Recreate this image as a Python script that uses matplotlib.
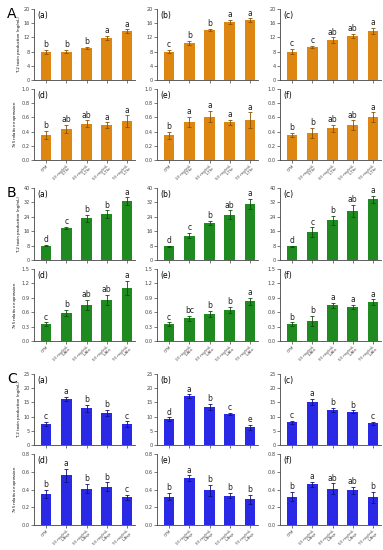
import numpy as np
import matplotlib
matplotlib.use('Agg')
import matplotlib.pyplot as plt

# x categories
doses = ['CYM', '10 mg/mL', '30 mg/mL', '50 mg/mL', '70 mg/mL']
amino = ['L-Thr', 'L-Ala', 'L-Asp']

# panel A (L-Thr): toxin (a,b,c) and Tri5 expression (d,e,f)
A_tox = [[7.8, 8.0, 9.0, 11.9, 13.8], [8.0, 10.4, 14.1, 16.4, 16.8], [8.0, 9.3, 11.2, 12.3, 13.8]]
A_tox_err = [[0.6, 0.4, 0.3, 0.5, 0.5], [0.5, 0.6, 0.4, 0.5, 0.6], [0.7, 0.4, 0.8, 0.6, 0.8]]
A_tox_let = [['b', 'b', 'b', 'a', 'a'], ['c', 'b', 'b', 'a', 'a'], ['c', 'c', 'ab', 'ab', 'a']]
A_exp = [[0.35, 0.44, 0.51, 0.49, 0.55], [0.35, 0.54, 0.61, 0.53, 0.56], [0.35, 0.38, 0.45, 0.49, 0.60]]
A_exp_err = [[0.06, 0.06, 0.05, 0.04, 0.08], [0.05, 0.07, 0.08, 0.04, 0.11], [0.03, 0.07, 0.05, 0.07, 0.07]]
A_exp_let = [['b', 'ab', 'ab', 'a', 'a'], ['b', 'a', 'a', 'a', 'a'], ['b', 'b', 'ab', 'ab', 'a']]

# panel B (L-Ala)
B_tox = [[8.0, 17.8, 23.2, 25.3, 32.8], [7.5, 13.5, 20.6, 25.0, 31.2], [7.5, 15.3, 22.2, 27.2, 33.8]]
B_tox_err = [[0.5, 0.6, 2.0, 2.2, 2.0], [0.3, 1.5, 1.3, 2.5, 2.8], [0.5, 2.8, 2.5, 3.5, 2.0]]
B_tox_let = [['d', 'c', 'b', 'b', 'a'], ['d', 'c', 'b', 'ab', 'a'], ['d', 'c', 'b', 'ab', 'a']]
B_exp = [[0.35, 0.59, 0.75, 0.85, 1.10], [0.35, 0.47, 0.56, 0.65, 0.83], [0.35, 0.42, 0.74, 0.71, 0.81]]
B_exp_err = [[0.04, 0.06, 0.10, 0.11, 0.15], [0.04, 0.05, 0.07, 0.06, 0.07], [0.04, 0.11, 0.06, 0.04, 0.06]]
B_exp_let = [['c', 'b', 'ab', 'ab', 'a'], ['c', 'bc', 'b', 'b', 'a'], ['b', 'b', 'a', 'a', 'a']]

# panel C (L-Asp)
C_tox = [[7.5, 16.3, 12.9, 11.3, 7.3], [9.1, 17.2, 13.3, 10.9, 6.3], [8.0, 15.2, 12.3, 11.7, 7.6]]
C_tox_err = [[0.7, 0.7, 1.2, 1.0, 1.0], [0.6, 0.6, 1.1, 0.4, 0.9], [0.5, 1.0, 0.7, 0.5, 0.5]]
C_tox_let = [['c', 'a', 'b', 'b', 'c'], ['d', 'a', 'b', 'c', 'e'], ['c', 'a', 'b', 'b', 'c']]
C_exp = [[0.35, 0.56, 0.41, 0.43, 0.31], [0.32, 0.53, 0.39, 0.33, 0.29], [0.32, 0.46, 0.41, 0.39, 0.31]]
C_exp_err = [[0.05, 0.07, 0.05, 0.05, 0.03], [0.04, 0.03, 0.06, 0.03, 0.05], [0.05, 0.03, 0.06, 0.04, 0.06]]
C_exp_let = [['b', 'a', 'b', 'b', 'c'], ['b', 'a', 'b', 'b', 'b'], ['b', 'a', 'ab', 'ab', 'b']]

panels = [
    ('A', A_tox, A_tox_err, A_tox_let, A_exp, A_exp_err, A_exp_let, 20, 4, 1.0, 0.2, '#DE8612', '#8a5200'),
    ('B', B_tox, B_tox_err, B_tox_let, B_exp, B_exp_err, B_exp_let, 40, 8, 1.5, 0.3, '#1F8A1F', '#0d4d0d'),
    ('C', C_tox, C_tox_err, C_tox_let, C_exp, C_exp_err, C_exp_let, 25, 5, 0.8, 0.2, '#2A2AE6', '#10107a'),
]

W, H = 383, 550
fig = plt.figure(figsize=(W / 100, H / 100), dpi=100)

col_left = [34, 157, 280]
col_w = 101
# (top, bottom) pixel rows of toxin / expression axes for each panel
rows = [((9, 80), (89, 160)), ((188, 260), (269, 341)), ((374, 445), (454, 525))]
sub_tox = ['(a)', '(b)', '(c)']
sub_exp = ['(d)', '(e)', '(f)']

x = np.arange(len(doses))


def style_ax(ax, ymax, ystep):
    ax.set_xlim(-0.6, 4.4)
    ax.set_ylim(0, ymax)
    ax.set_yticks(np.arange(0, ymax + ystep / 2, ystep))
    for s in ['top', 'right']:
        ax.spines[s].set_visible(False)
    for s in ['left', 'bottom']:
        ax.spines[s].set_linewidth(0.6)
        ax.spines[s].set_color('#444444')
    ax.tick_params(axis='both', length=2, width=0.5, labelsize=3.6, pad=1, colors='#444444')


def draw_bars(ax, vals, errs, lets, ymax, color, ecolor):
    ax.bar(x, vals, width=0.52, color=color, zorder=2)
    ax.errorbar(x, vals, yerr=errs, fmt='none', ecolor=ecolor, elinewidth=0.6,
                capsize=1.3, capthick=0.6, zorder=3)
    for xi, v, e, l in zip(x, vals, errs, lets):
        ax.text(xi, v + e + ymax * 0.01, l, ha='center', va='bottom', fontsize=5.5, color='#222222')


for pi, (letter, tox, tox_e, tox_l, exp, exp_e, exp_l, tmax, tstep, emax, estep, col, ecol) in enumerate(panels):
    (t_top, t_bot), (e_top, e_bot) = rows[pi]
    for ci in range(3):
        l = col_left[ci] / W
        axt = fig.add_axes([l, 1 - t_bot / H, col_w / W, (t_bot - t_top) / H])
        draw_bars(axt, tox[ci], tox_e[ci], tox_l[ci], tmax, col, ecol)
        style_ax(axt, tmax, tstep)
        axt.set_xticks(x)
        axt.set_xticklabels([])
        axt.text(0.03, 0.97, sub_tox[ci], transform=axt.transAxes, fontsize=5.5, va='top', ha='left')

        axe = fig.add_axes([l, 1 - e_bot / H, col_w / W, (e_bot - e_top) / H])
        draw_bars(axe, exp[ci], exp_e[ci], exp_l[ci], emax, col, ecol)
        style_ax(axe, emax, estep)
        axe.set_xticks(x)
        labels = [doses[0]] + [d + '\n' + amino[pi] for d in doses[1:]]
        axe.set_xticklabels(labels, rotation=45, ha='right', rotation_mode='anchor', fontsize=2.9,
                            linespacing=0.85)
        axe.tick_params(axis='x', pad=0.5)
        axe.text(0.03, 0.97, sub_exp[ci], transform=axe.transAxes, fontsize=5.5, va='top', ha='left')

        if ci == 0:
            axt.set_ylabel('T-2 toxin production (ng/mL)', fontsize=2.8, labelpad=2)
            axe.set_ylabel('$\\it{Tri5}$ relative expression', fontsize=2.8, labelpad=2)

    fig.text(7 / W, 1 - (t_top + 5) / H, letter, fontsize=10, ha='left', va='center')

fig.savefig('out.png', dpi=100)
